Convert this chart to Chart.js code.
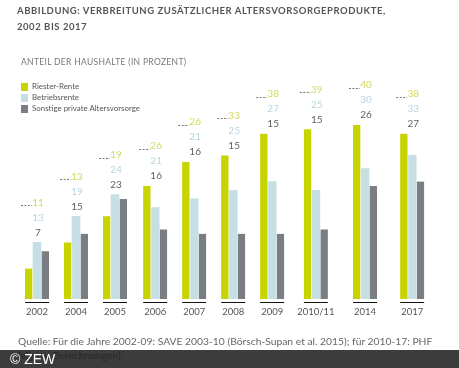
<!DOCTYPE html>
<html lang="de">
<head>
<meta charset="utf-8">
<title>Zusätzliche Altersvorsorge</title>
<script src="https://cdn.jsdelivr.net/npm/chart.js@4"></script>
<style>
    html, body { margin: 0; padding: 0; background: #fff; }
    #wrap { position: relative; width: 459px; height: 368px; overflow: hidden; font-family: 'Lato', sans-serif; }
    #wrap canvas { position: absolute; left: 0; top: 0; }
    .txt { position: absolute; white-space: nowrap; }
    #title { left: 17px; top: 3px; font-size: 9.5px; line-height: 16px; font-weight: 700; letter-spacing: 0.55px; color: #555; }
    #subtitle { left: 21px; top: 56px; font-size: 8.5px; line-height: 12px; letter-spacing: 0.32px; color: #777; }
    #source { left: 18px; top: 334px; font-size: 10.3px; line-height: 14px; color: #666; }
    #footer { position: absolute; left: 0; top: 350px; width: 459px; height: 18px; background: rgba(30, 30, 30, 0.867); }
    #copyright { left: 10px; top: 350px; font-family: 'Liberation Sans', sans-serif; font-size: 14px; line-height: 18px; color: #fff; }
    .legend-item { position: absolute; left: 21px; font-size: 7.9px; line-height: 11px; color: #555; padding-left: 11px; white-space: nowrap; }
    .legend-item i { position: absolute; left: 0; top: 1.5px; width: 7px; height: 8px; }
</style>
</head>
<body>
<div id="wrap">
    <canvas id="chart" width="459" height="368"></canvas>
    <div class="txt" id="title">ABBILDUNG: VERBREITUNG ZUSÄTZLICHER ALTERSVORSORGEPRODUKTE,<br>2002 BIS 2017</div>
    <div class="txt" id="subtitle">ANTEIL DER HAUSHALTE (IN PROZENT)</div>
    <div id="legend"></div>
    <div class="txt" id="source">Quelle: Für die Jahre 2002-09: SAVE 2003-10 (Börsch-Supan et al. 2015); für 2010-17: PHF<br>(eigene Berechnungen).</div>
    <div id="footer"></div>
    <div class="txt" id="copyright">© ZEW</div>
</div>
<script>
// Bar heights as drawn in the picture
const categories = ['2002', '2004', '2005', '2006', '2007', '2008', '2009', '2010/11', '2014', '2017'];
const riesterValues = [7, 13, 19, 26, 31.5, 33, 38, 39, 40, 38];
const betriebValues = [13, 19, 24, 21, 23, 25, 27, 25, 30, 33];
const sonstigeValues = [11, 15, 23, 16, 15, 15, 15, 16, 26, 27];

// Numbers printed above the bars (they differ from the bars in 2002, 2007, 2010/11)
const riesterLabels = ['11', '13', '19', '26', '26', '33', '38', '39', '40', '38'];
const betriebLabels = ['13', '19', '24', '21', '21', '25', '27', '25', '30', '33'];
const sonstigeLabels = ['7', '15', '23', '16', '16', '15', '15', '15', '26', '27'];

const seriesNames = ['Riester-Rente', 'Betriebsrente', 'Sonstige private Altersvorsorge'];

// The groups are not evenly spaced in the original
const groupSlots = [0, 1, 2, 3.03, 4.03, 5.03, 6.03, 7.15, 8.41, 9.62];

const barColors = ['#c8d400', '#c5dfe5', '#7a7e83'];
const labelColors = ['#d2da5c', '#b7d4e0', '#5f6165'];

function toPoints(values) {
    return groupSlots.map((x, i) => ({ x: x, y: values[i] }));
}

// Short black rule under each group
const baselinePlugin = {
    id: 'groupBaseline',
    afterDatasetsDraw(chart) {
        const { ctx, scales: { x, y } } = chart;
        ctx.save();
        ctx.strokeStyle = '#111';
        ctx.lineWidth = 1;
        groupSlots.forEach(slot => {
            const cx = x.getPixelForValue(slot);
            ctx.beginPath();
            ctx.moveTo(cx - 12, y.bottom + 3.5);
            ctx.lineTo(cx + 12, y.bottom + 3.5);
            ctx.stroke();
        });
        ctx.restore();
    }
};

// Three stacked numbers above each group, plus the dashed lead-in
const valueLabelPlugin = {
    id: 'valueLabels',
    afterDatasetsDraw(chart) {
        const { ctx, scales: { x, y } } = chart;
        const rows = [riesterLabels, betriebLabels, sonstigeLabels];
        ctx.save();
        ctx.font = '10px Lato, sans-serif';
        ctx.textAlign = 'center';
        ctx.textBaseline = 'middle';
        groupSlots.forEach((slot, i) => {
            const cx = x.getPixelForValue(slot) + 1;
            const tallest = Math.max(riesterValues[i], betriebValues[i], sonstigeValues[i]);
            const bottomRow = y.getPixelForValue(tallest) - 10;
            rows.forEach((row, r) => {
                ctx.fillStyle = labelColors[r];
                ctx.fillText(row[i], cx, bottomRow - (2 - r) * 15);
            });
            const dashY = Math.round(bottomRow - 30 + 3) + 0.5;
            ctx.strokeStyle = '#777';
            ctx.lineWidth = 1;
            ctx.setLineDash([2, 1.5]);
            ctx.beginPath();
            ctx.moveTo(cx - 17, dashY);
            ctx.lineTo(cx - 6, dashY);
            ctx.stroke();
            ctx.setLineDash([]);
        });
        ctx.restore();
    }
};

document.addEventListener('DOMContentLoaded', () => {
    const legend = document.getElementById('legend');
    seriesNames.forEach((name, i) => {
        const item = document.createElement('div');
        item.className = 'legend-item';
        item.style.top = (81 + i * 11) + 'px';
        item.innerHTML = `<i style="background:${barColors[i]}"></i>${name}`;
        legend.appendChild(item);
    });

    new Chart(document.getElementById('chart').getContext('2d'), {
        type: 'bar',
        data: {
            datasets: [
                { label: seriesNames[0], data: toPoints(riesterValues), backgroundColor: barColors[0], borderColor: '#fff', borderWidth: { right: 1 }, barThickness: 8 },
                { label: seriesNames[1], data: toPoints(betriebValues), backgroundColor: barColors[1], borderWidth: 0, barThickness: 8 },
                { label: seriesNames[2], data: toPoints(sonstigeValues), backgroundColor: barColors[2], borderColor: '#fff', borderWidth: { left: 1 }, barThickness: 8 }
            ]
        },
        options: {
            responsive: false,
            animation: false,
            layout: { padding: { left: 17.5, right: 12.5, top: 81.5, bottom: 0 } },
            plugins: {
                legend: { display: false },
                title: { display: false },
                tooltip: { enabled: false }
            },
            scales: {
                x: {
                    type: 'linear',
                    min: -0.5,
                    max: 10.5,
                    offset: false,
                    grid: { display: false, drawTicks: false },
                    border: { display: false },
                    afterBuildTicks: scale => { scale.ticks = groupSlots.map(v => ({ value: v })); },
                    afterFit: scale => { scale.height = 69; },
                    ticks: {
                        autoSkip: false,
                        maxRotation: 0,
                        padding: 7,
                        color: '#555',
                        font: { family: 'Lato, sans-serif', size: 9.5 },
                        callback: (value, index) => categories[index]
                    }
                },
                y: {
                    display: false,
                    min: 0,
                    max: 50
                }
            }
        },
        plugins: [baselinePlugin, valueLabelPlugin]
    });
});
</script>
</body>
</html>
